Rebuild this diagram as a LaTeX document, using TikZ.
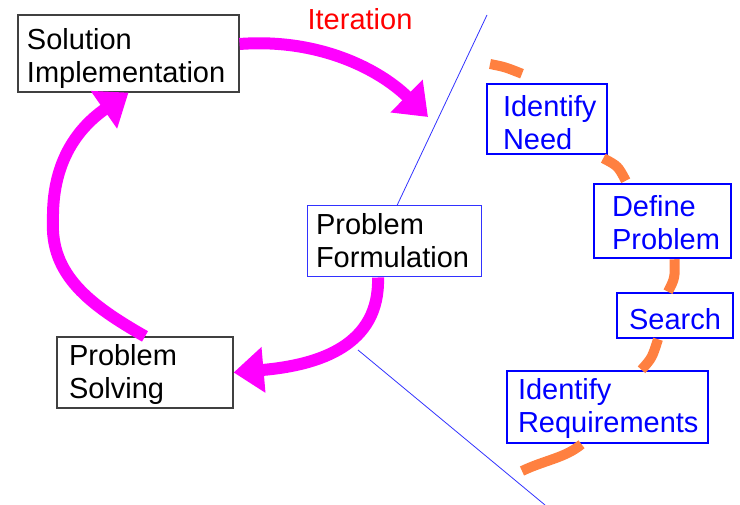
\documentclass[tikz,border=0pt]{standalone}
\usepackage{fontspec}
\setmainfont{Liberation Sans}
\usetikzlibrary{arrows.meta}
\definecolor{loopmagenta}{RGB}{255,0,255}
\definecolor{steporange}{RGB}{255,128,64}
\definecolor{divblue}{RGB}{50,50,255}
\definecolor{boxgray}{RGB}{64,64,64}

\begin{document}
\begin{tikzpicture}[x=1pt,y=-1pt,
  box/.style={draw=boxgray,line width=1.2pt,align=left,inner ysep=0pt,font=\fontsize{29}{33}\selectfont},
  stepbox/.style={draw=blue,line width=2.5pt,text=blue,align=left,inner ysep=0pt,font=\fontsize{29}{33}\selectfont},
  looparrow/.style={draw=loopmagenta,line width=12pt,-{Triangle[length=30pt,width=44pt]}},
  orangetrail/.style={draw=steporange,line width=10pt},
  divider/.style={draw=divblue,line width=0.8pt}]
\useasboundingbox (0,0) rectangle (740,505);

\node[box,text width=203pt,inner xsep=9pt,text height=35pt,text depth=42pt] (si) at (128.5,53.5) {Solution\\Implementation};
\node[box,draw=divblue,line width=1pt,text width=156pt,inner xsep=9pt,text height=29pt,text depth=42pt] (pf) at (394,241.5) {Problem\\Formulation};
\node[box,text width=152pt,inner xsep=12pt,text height=29pt,text depth=42pt] (ps) at (145,372.5) {Problem\\Solving};
\node[text=red,font=\fontsize{29}{33}\selectfont] (iter) at (360,19) {Iteration};

%steps
\node[stepbox,text width=88pt,inner xsep=16pt,text height=33pt,text depth=37pt] (need) at (547,119) {Identify\\Need};
\node[stepbox,text width=101pt,inner xsep=18pt,text height=33pt,text depth=41pt] (define) at (662.5,221) {Define\\Problem};
\node[stepbox,align=center,minimum width=116pt,text height=37pt,text depth=8pt] (search) at (675,315.5) {Search};
\node[stepbox,text width=179pt,inner xsep=11pt,text height=29pt,text depth=43pt] (req) at (607.5,407) {Identify\\Requirements};

%dividers
\coordinate (divtop) at (487,15);
\coordinate (divlow) at (358,350);
\coordinate (divend) at (545,505);
\draw [divider] (divtop) -- ([xshift=3pt]pf.north);
\draw [divider] (divlow) -- (divend);

%loop
\coordinate (itertip) at (428,117);
\draw [looparrow] ([yshift=9.5pt]si.east) .. controls (320,38) and (380,70) .. (itertip);
\draw [looparrow] ([xshift=-16pt]pf.south) .. controls (380,345) and (320,365) .. (ps.east);
\draw [looparrow] (ps.north) .. controls (90,305) and (50,275) .. (53,220) .. controls (52,165) and (75,130) .. (si.south);

%trail
\coordinate (needstart) at (490,64);
\coordinate (reqend) at (522,471);
\draw [orangetrail] (needstart) .. controls (505,67) .. ([xshift=-25pt,yshift=9pt]need.north);
\draw [orangetrail] ([xshift=-5pt,yshift=-3pt]need.south east) .. controls (618,166) .. ([xshift=33pt,yshift=2pt]define.north west);
\draw [orangetrail] ([xshift=12pt]define.south) .. controls (675,278) .. ([xshift=-7pt]search.north);
\draw [orangetrail] ([xshift=-17pt]search.south) .. controls (652,358) .. ([xshift=34pt]req.north);
\draw [orangetrail] ([xshift=-26pt]req.south) .. controls (565,458) and (545,460) .. (reqend);
\end{tikzpicture}
\end{document}
